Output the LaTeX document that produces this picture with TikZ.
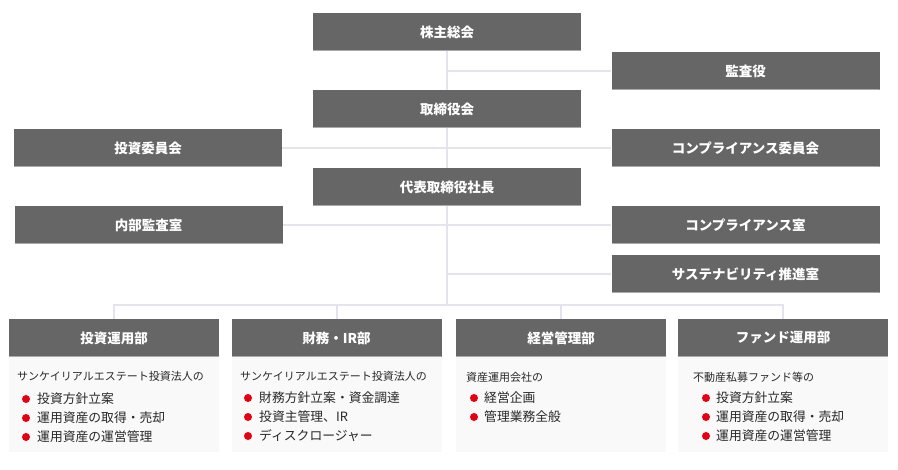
\documentclass[tikz,border=0pt]{standalone}
\usepackage{fontspec}
\setmainfont{Noto Sans CJK JP}
\usetikzlibrary{backgrounds}
\definecolor{boxgray}{RGB}{102,102,102}
\definecolor{edgegray}{RGB}{170,170,170}
\definecolor{bodygray}{RGB}{249,249,249}
\definecolor{linegray}{RGB}{228,228,236}
\definecolor{textgray}{RGB}{40,40,40}
\definecolor{bulletred}{RGB}{230,0,18}

\begin{document}
\begin{tikzpicture}[x=1pt,y=-1pt,
  box/.style={fill=boxgray,text=white,minimum width=268pt,minimum height=38pt,inner sep=0pt,
    font=\bfseries\fontsize{13.5}{15}\selectfont,
    path picture={\draw[edgegray,line width=2pt] (path picture bounding box.south west) -- (path picture bounding box.south east);}},
  dept/.style={box,minimum width=210pt},
  deptbody/.style={fill=bodygray,minimum width=210pt,minimum height=95pt,inner sep=0pt},
  link/.style={draw=linegray,line width=2pt},
  txt/.style={anchor=west,text=textgray,inner sep=0pt,font=\fontsize{11}{13}\selectfont},
  item/.style={txt,font=\fontsize{12.8}{14}\selectfont},
  dot/.style={fill=bulletred}]
\useasboundingbox (0,0) rectangle (898,470);

% center column
\node[box] (gm) at (447,32) {株主総会};
\node[box] (board) at (447,109) {取締役会};
\node[box] (ceo) at (447,187) {代表取締役社長};
% side boxes
\node[box] (aud) at (745.5,71) {監査役};
\node[box] (invc) at (148,148) {投資委員会};
\node[box] (compc) at (745.5,148) {コンプライアンス委員会};
\node[box] (ia) at (148.5,225) {内部監査室};
\node[box] (comp) at (745.5,225) {コンプライアンス室};
\node[box] (sus) at (745.5,274) {サステナビリティ推進室};
\coordinate (bus) at (447,305);

% departments
\node[dept] (d1) at (114,338) {投資運用部};
\node[dept] (d2) at (336.5,338) {財務・IR部};
\node[dept] (d3) at (561,338) {経営管理部};
\node[dept] (d4) at (783,338) {ファンド運用部};
\begin{pgfonlayer}{background}
\node[deptbody] (d1b) at (114,404.5) {};
\node[deptbody] (d2b) at (336.5,404.5) {};
\node[deptbody] (d3b) at (561,404.5) {};
\node[deptbody] (d4b) at (783,404.5) {};
\end{pgfonlayer}

% connectors
\begin{pgfonlayer}{background}
\draw[link] (gm.south) -- (ceo.north);
\draw[link] (gm.south |- aud.west) -- (aud.west);
\draw[link] (invc.east) -- (compc.west);
\draw[link] (ia.east) -- (comp.west);
\draw[link] (ceo.south) -- (bus);
\draw[link] (bus |- sus.west) -- (sus.west);
\draw[link] (d1.north) |- (bus) -| (d4.north);
\draw[link] (d2.north) -- (d2.north |- bus);
\draw[link] (d3.north) -- (d3.north |- bus);
\end{pgfonlayer}

% 投資運用部
\node[txt] (d1t) at (17,376) {サンケイリアルエステート投資法人の};
\node[item] (d1a) at (37,399) {投資方針立案};
\node[item] (d1c) at (37,418) {運用資産の取得・売却};
\node[item] (d1e) at (37,437) {運用資産の運営管理};
\fill[dot] (26,399) circle [radius=4pt];
\fill[dot] (26,418) circle [radius=4pt];
\fill[dot] (26,437) circle [radius=4pt];

% 財務・IR部
\node[txt] (d2t) at (240,376) {サンケイリアルエステート投資法人の};
\node[item] (d2a) at (259,398) {財務方針立案・資金調達};
\node[item] (d2c) at (259,417) {投資主管理、IR};
\node[item] (d2e) at (259,436) {ディスクロージャー};
\fill[dot] (248,398) circle [radius=4pt];
\fill[dot] (248,417) circle [radius=4pt];
\fill[dot] (248,436) circle [radius=4pt];

% 経営管理部
\node[txt] (d3t) at (466,377) {資産運用会社の};
\node[item] (d3a) at (484,398) {経営企画};
\node[item] (d3c) at (484,417) {管理業務全般};
\fill[dot] (474,398) circle [radius=4pt];
\fill[dot] (474,417) circle [radius=4pt];

% ファンド運用部
\node[txt] (d4t) at (693,377) {不動産私募ファンド等の};
\node[item] (d4a) at (716,398) {投資方針立案};
\node[item] (d4c) at (716,417) {運用資産の取得・売却};
\node[item] (d4e) at (716,436) {運用資産の運営管理};
\fill[dot] (706,398) circle [radius=4pt];
\fill[dot] (706,417) circle [radius=4pt];
\fill[dot] (706,436) circle [radius=4pt];
\end{tikzpicture}
\end{document}
